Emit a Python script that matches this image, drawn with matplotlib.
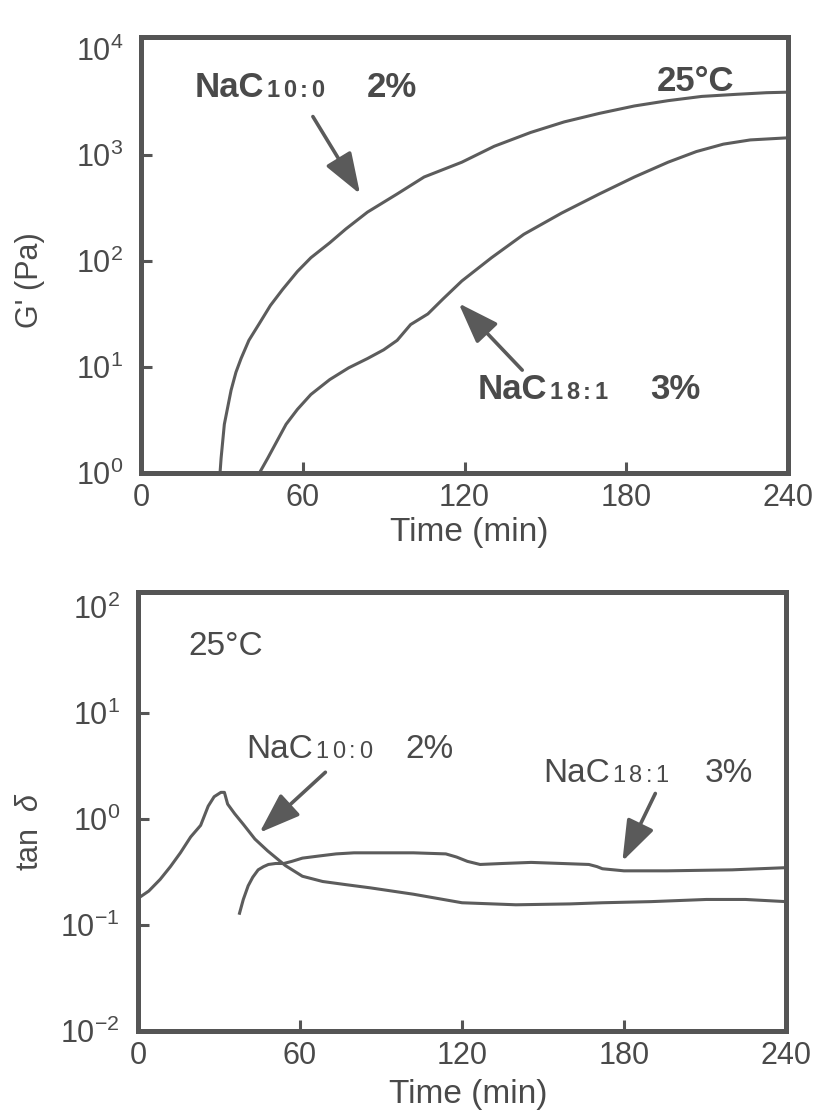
import matplotlib
matplotlib.use('Agg')
import matplotlib.pyplot as plt
from matplotlib.ticker import FixedLocator, FixedFormatter, NullLocator

plt.rcParams['font.family'] = ['Liberation Sans', 'DejaVu Sans']
plt.rcParams['mathtext.fontset'] = 'custom'
plt.rcParams['mathtext.rm'] = 'Liberation Sans'
plt.rcParams['mathtext.it'] = 'Liberation Sans:italic'

INK = '#4a4a4a'
LINE = '#5c5c5c'

# G' (Pa) vs time (min), 25 C
t_g_c10 = [29.3, 29.7, 30.9, 33.4, 35.2, 37.1, 40, 43.9, 48, 52.5, 58, 63, 70, 76,
           84, 95, 105, 119, 131, 144.5, 157, 170, 183, 195.5, 208, 221, 232, 240]
g_c10 = [1.0, 1.38, 2.88, 6.03, 8.9, 12.0, 17.8, 25.7, 38, 53.7, 79.4, 107, 148, 200,
         288, 427, 617, 851, 1202, 1622, 2042, 2455, 2884, 3236, 3548, 3715, 3846, 3890]

t_g_c18 = [43.9, 47, 50, 53.8, 58, 63, 70, 77, 84, 90, 95, 100, 106.4, 112, 119,
           130, 142, 156, 170, 183, 195.5, 206, 216, 226, 240]
g_c18 = [1.0, 1.38, 1.91, 2.88, 3.98, 5.5, 7.6, 9.8, 12.0, 14.5, 17.8, 25.1, 31.6, 43.7,
         64.6, 107, 178, 282, 427, 617, 851, 1072, 1259, 1380, 1445]

# tan delta vs time (min)
t_d_c10 = [0, 4, 8.2, 12, 15.7, 19.5, 23.2, 26, 28.2, 30.7, 32, 33.2, 35.8, 39, 43.3,
           48, 54.6, 60.9, 68.4, 77, 86, 102, 120, 140, 160, 172, 190, 210.5, 225, 240]
d_c10 = [0.178, 0.209, 0.269, 0.355, 0.479, 0.676, 0.87, 1.32, 1.62, 1.78, 1.78, 1.38,
         1.12, 0.89, 0.646, 0.50, 0.363, 0.288, 0.257, 0.240, 0.224, 0.195, 0.162,
         0.155, 0.158, 0.162, 0.166, 0.174, 0.174, 0.166]

t_d_c18 = [37.6, 39, 40.8, 42.5, 44.5, 46.5, 48.3, 51, 54, 57, 60.9, 67, 73.4, 80, 86,
           95, 102, 114, 118, 122, 126.7, 135, 145.6, 157, 167, 170, 172, 180, 196,
           220, 240]
d_c18 = [0.129, 0.174, 0.234, 0.282, 0.331, 0.355, 0.372, 0.380, 0.380, 0.398, 0.427,
         0.447, 0.468, 0.479, 0.479, 0.479, 0.479, 0.468, 0.437, 0.398, 0.372, 0.380,
         0.389, 0.380, 0.372, 0.355, 0.339, 0.324, 0.324, 0.331, 0.347]

x_ticks = [0, 60, 120, 180, 240]
g_ticks = [1, 10, 100, 1000, 10000]
g_tick_labels = [r'$\mathregular{10^{0}}$', r'$\mathregular{10^{1}}$',
                 r'$\mathregular{10^{2}}$', r'$\mathregular{10^{3}}$',
                 r'$\mathregular{10^{4}}$']
d_ticks = [0.01, 0.1, 1, 10, 100]
d_tick_labels = [r'$\mathregular{10^{-2}}$', r'$\mathregular{10^{-1}}$',
                 r'$\mathregular{10^{0}}$', r'$\mathregular{10^{1}}$',
                 r'$\mathregular{10^{2}}$']


def style_axes(ax, yticks, ylabels, ylim):
    ax.set_yscale('log')
    ax.set_xlim(0, 240)
    ax.set_ylim(*ylim)
    for s in ax.spines.values():
        s.set_linewidth(3.6)
        s.set_color('#555555')
    ax.xaxis.set_major_locator(FixedLocator(x_ticks))
    ax.yaxis.set_major_locator(FixedLocator(yticks))
    ax.yaxis.set_major_formatter(FixedFormatter(ylabels))
    ax.yaxis.set_minor_locator(NullLocator())
    ax.tick_params(direction='in', length=8, width=2.2, color='#555555',
                   labelsize=22, labelcolor=INK)
    ax.tick_params(axis='x', pad=7)
    ax.tick_params(axis='y', pad=13)
    # no tick marks at the box corners
    for tk in (ax.xaxis.get_major_ticks()[0], ax.xaxis.get_major_ticks()[-1],
               ax.yaxis.get_major_ticks()[0], ax.yaxis.get_major_ticks()[-1]):
        tk.tick1line.set_visible(False)


def name_label(ax, x, y, sub, pct_x, pct, size, subsize, weight):
    prev = ax.text(x, y, 'NaC', fontsize=size, weight=weight, color=INK,
                   va='baseline')
    off = (2, 1.5)
    # small, widely spaced subscript digits sitting on the baseline
    for ch in sub:
        prev = ax.annotate(ch, xy=(1, 0), xycoords=prev, xytext=off,
                           textcoords='offset points', fontsize=subsize,
                           weight=weight, color=INK, va='bottom')
        off = (2.5, 0)
    ax.text(pct_x, y, pct, fontsize=size, weight=weight, color=INK, va='baseline')


def arrow(ax, tail, head):
    ax.annotate('', xy=head, xytext=tail,
                arrowprops=dict(arrowstyle='-|>,head_length=0.9,head_width=0.32',
                                color='#5a5a5a', lw=2.6, mutation_scale=28,
                                shrinkA=0, shrinkB=0))


fig = plt.figure(figsize=(8.19, 11.18), dpi=100)

# top panel: G'
ax1 = fig.add_axes([0.1722, 0.5769, 0.790, 0.390])
ax1.plot(t_g_c10, g_c10, color=LINE, lw=2.2)
ax1.plot(t_g_c18, g_c18, color=LINE, lw=2.2)
style_axes(ax1, g_ticks, g_tick_labels, (1, 10 ** 4.11))
ax1.set_xlabel('Time (min)', fontsize=24, color=INK)
ax1.xaxis.set_label_coords(0.508, -0.1)
ax1.set_ylabel("G' (Pa)", fontsize=22, color=INK)
ax1.yaxis.set_label_coords(-0.148, 0.443)

name_label(ax1, 19.8, 10 ** 3.54, '10:0', 83.75, '2%', 25, 17, 'bold')
ax1.text(220, 10 ** 3.60, '25°C', fontsize=25, weight='bold', color=INK,
         ha='right', va='baseline')
name_label(ax1, 124.8, 10 ** 0.70, '18:1', 189, '3%', 25, 17, 'bold')
arrow(ax1, (63.75, 10 ** 3.36), (81.25, 10 ** 2.63))
arrow(ax1, (141.4, 10 ** 0.97), (117.8, 10 ** 1.60))

# bottom panel: tan delta
ax2 = fig.add_axes([0.1685, 0.0778, 0.7912, 0.3927])
ax2.plot(t_d_c10, d_c10, color=LINE, lw=2.2)
ax2.plot(t_d_c18, d_c18, color=LINE, lw=2.2)
style_axes(ax2, d_ticks, d_tick_labels, (0.01, 10 ** 2.14))
ax2.set_xlabel('Time (min)', fontsize=24, color=INK)
ax2.xaxis.set_label_coords(0.51, -0.11)
ax2.set_ylabel(r'tan  $\delta$', fontsize=22, color=INK)
ax2.yaxis.set_label_coords(-0.1435, 0.453)

ax2.text(18.5, 10 ** 1.55, '25°C', fontsize=24, color=INK, va='baseline')
name_label(ax2, 40, 10 ** 0.57, '10:0', 99, '2%', 24, 17, 'normal')
name_label(ax2, 150, 10 ** 0.35, '18:1', 209.9, '3%', 24, 17, 'normal')
arrow(ax2, (69.4, 10 ** 0.44), (45, 10 ** -0.13))
arrow(ax2, (191.6, 10 ** 0.24), (179.4, 10 ** -0.40))

fig.savefig('out.png', dpi=100)
